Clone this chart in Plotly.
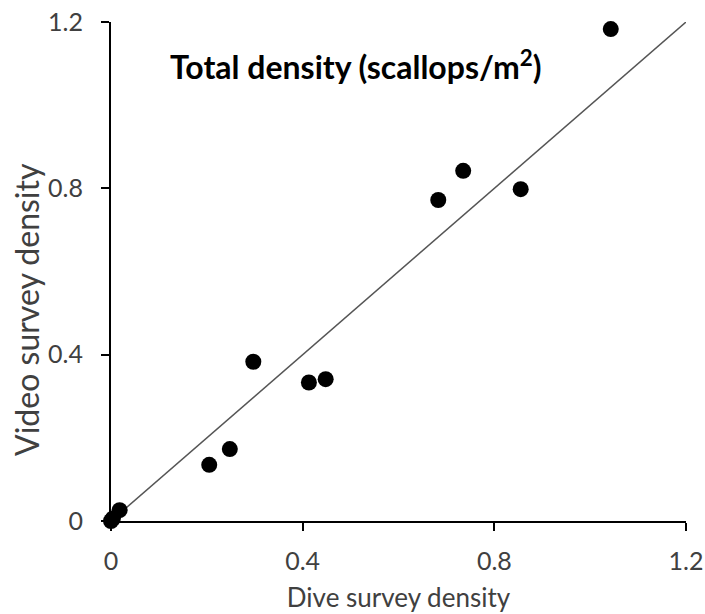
import plotly.graph_objects as go

dive_density = [0.0, 0.004, 0.018, 0.205, 0.248, 0.297, 0.413, 0.448, 0.683, 0.735, 0.855, 1.043]
video_density = [0.0, 0.006, 0.026, 0.135, 0.173, 0.383, 0.333, 0.341, 0.772, 0.842, 0.798, 1.183]
line_x = [0, 1.2]
line_y = [0, 1.2]
tick_vals = [0, 0.4, 0.8, 1.2]
tick_text = ["0", "0.4", "0.8", "1.2"]

FONT = "Lato"

fig = go.Figure()
fig.add_trace(go.Scatter(x=line_x, y=line_y, mode="lines",
                         line=dict(color="#555555", width=1.5),
                         hoverinfo="skip", showlegend=False))
fig.add_trace(go.Scatter(x=dive_density, y=video_density, mode="markers",
                         marker=dict(color="black", size=16),
                         cliponaxis=False, showlegend=False))

axis_common = dict(range=[0, 1.2], tickvals=tick_vals, ticktext=tick_text,
                   showgrid=False, zeroline=False, showline=True,
                   linecolor="black", linewidth=2, ticks="outside",
                   ticklen=8, tickwidth=2, tickcolor="black", automargin=False,
                   ticklabeloverflow="allow",
                   tickfont=dict(family=FONT, size=25, color="#404040"))

fig.update_xaxes(**axis_common, ticklabelstandoff=9,
                 title=dict(text="Dive survey density", standoff=15,
                            font=dict(family=FONT, size=26, color="#404040")))
fig.update_yaxes(**axis_common, ticklabelstandoff=13)

fig.add_annotation(text="Video survey density", textangle=-90,
                   xref="paper", yref="paper", x=-0.146, y=0.423,
                   showarrow=False, xanchor="center", yanchor="middle",
                   font=dict(family=FONT, size=32, color="#404040"))

fig.add_annotation(text="<b>Total density (scallops/m<sup>2</sup>)</b>",
                   xref="paper", yref="paper", x=0.426, y=0.914,
                   showarrow=False, xanchor="center", yanchor="middle",
                   font=dict(family=FONT, size=32, color="black"))

fig.update_layout(width=705, height=614,
                  margin=dict(l=111, r=19, t=22, b=93),
                  plot_bgcolor="white", paper_bgcolor="white")

fig.write_html("out.html",
               config={"displayModeBar": False},
               post_script="document.body.style.margin='0';"
                           "document.body.style.overflow='hidden';")
